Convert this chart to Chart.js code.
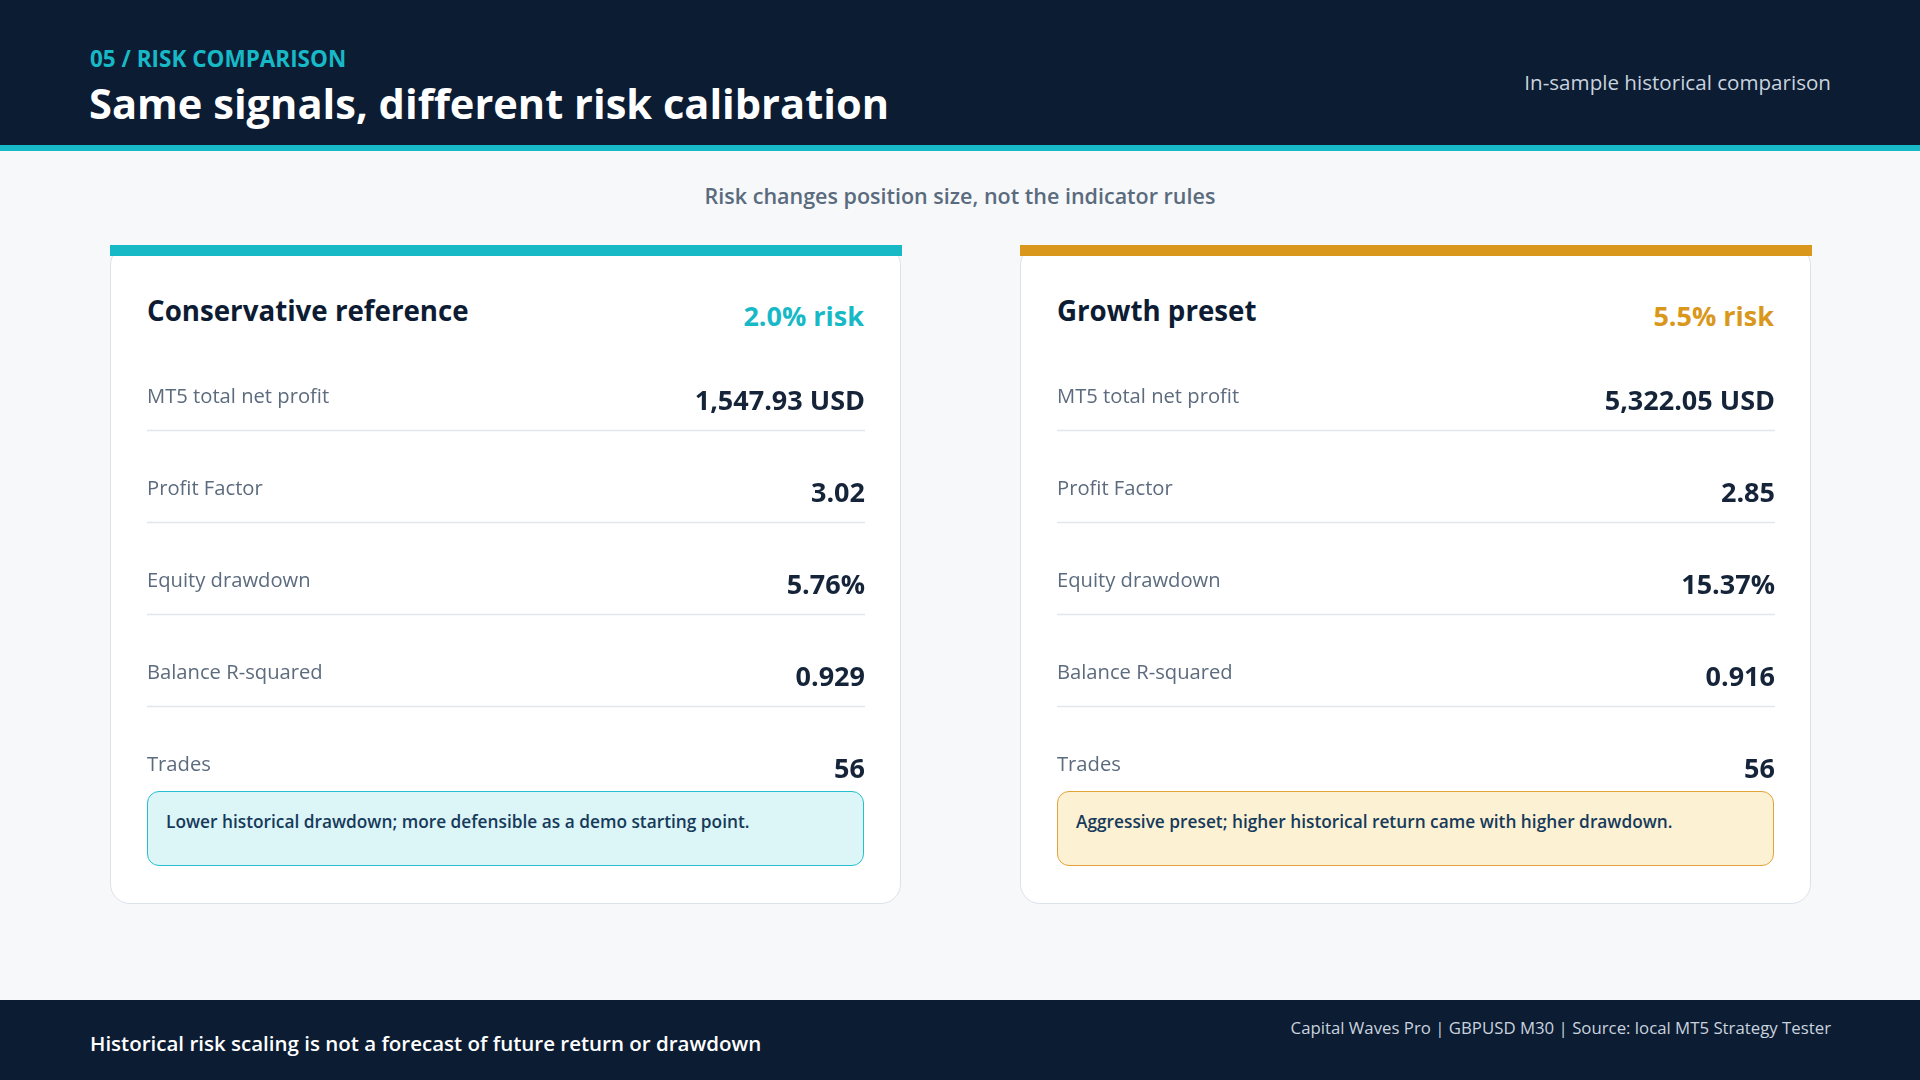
<!DOCTYPE html>
<html>
<head>
<meta charset="utf-8">
<script src="https://cdn.jsdelivr.net/npm/chart.js@4.4.1/dist/chart.umd.min.js"></script>
<style>
  html,body{margin:0;padding:0;}
  body{width:1920px;height:1080px;position:relative;overflow:hidden;background:#f6f8fa;font-family:"Open Sans",sans-serif;}
  .abs{position:absolute;white-space:nowrap;line-height:1;}
  #header{position:absolute;left:0;top:0;width:1920px;height:145px;background:#0b1c33;}
  #hline{position:absolute;left:0;top:145px;width:1920px;height:6px;background:#18b9c7;}
  #footer{position:absolute;left:0;top:1000px;width:1920px;height:80px;background:#0b1c33;}
  .card{position:absolute;top:245px;width:789px;height:657px;background:#fff;border:1.5px solid #dbe3ea;border-radius:20px;box-sizing:content-box;}
  .bar{position:absolute;left:-1.5px;top:-1.5px;width:792px;height:11px;}
  .ctitle{position:absolute;left:36px;top:50.6px;font-size:27.7px;font-weight:700;color:#0d1c33;line-height:1;white-space:nowrap;}
  .crisk{position:absolute;right:36px;top:55.5px;font-size:27px;font-weight:700;line-height:1;white-space:nowrap;}
  .chartbox{position:absolute;left:36px;top:92.6px;width:718px;height:484.2px;}
  .note{position:absolute;left:36px;top:545px;width:715px;height:73px;border-radius:12px;border:1.5px solid;box-sizing:content-box;}
  .note span{position:absolute;left:18px;top:20.6px;font-size:17.3px;font-weight:600;color:#163a5a;line-height:1;white-space:nowrap;}
</style>
</head>
<body>
<div id="header"></div>
<div id="hline"></div>
<div class="abs" id="eyebrow" style="left:90px;top:48px;font-size:22.5px;font-weight:700;color:#18b9c7;"></div>
<div class="abs" id="title" style="left:89px;top:83px;font-size:41.6px;font-weight:700;color:#ffffff;"></div>
<div class="abs" id="hright" style="right:89px;top:72.4px;font-size:20.6px;font-weight:400;color:#c9d3de;"></div>
<div class="abs" id="subtitle" style="left:0;width:1920px;text-align:center;top:185px;font-size:21.5px;font-weight:600;color:#5a6b7d;"></div>

<div id="cards"></div>

<div id="footer"></div>
<div class="abs" id="fleft" style="left:90px;top:1032.5px;font-size:20.5px;font-weight:600;color:#ffffff;"></div>
<div class="abs" id="fright" style="right:89px;top:1020px;font-size:16.8px;font-weight:400;color:#c9d3de;"></div>

<script>
// ---- Text content ----
const eyebrowText = '05 / RISK COMPARISON';
const titleText = 'Same signals, different risk calibration';
const headerRightText = 'In-sample historical comparison';
const subtitleText = 'Risk changes position size, not the indicator rules';
const footerLeftText = 'Historical risk scaling is not a forecast of future return or drawdown';
const footerRightText = 'Capital Waves Pro | GBPUSD M30 | Source: local MT5 Strategy Tester';

// ---- Data ----
const metricLabels = ['MT5 total net profit', 'Profit Factor', 'Equity drawdown', 'Balance R-squared', 'Trades'];
const valueDecimals = [2, 2, 2, 3, 0];
const valueSuffix = [' USD', '', '%', '', ''];

const presetNames = ['Conservative reference', 'Growth preset'];
const presetRisk = [2.0, 5.5];
const conservativeValues = [1547.93, 3.02, 5.76, 0.929, 56];
const growthValues = [5322.05, 2.85, 15.37, 0.916, 56];
const presetNotes = [
  'Lower historical drawdown; more defensible as a demo starting point.',
  'Aggressive preset; higher historical return came with higher drawdown.'
];

// ---- Styling (not data) ----
const presetColors = ['#18b9c7', '#d9981c'];
const noteFill = ['#dcf5f7', '#fdf1d4'];
const noteBorder = ['#25c0cf', '#e4a338'];
const cardLeft = [110, 1020];

document.getElementById('eyebrow').textContent = eyebrowText;
document.getElementById('title').textContent = titleText;
document.getElementById('hright').textContent = headerRightText;
document.getElementById('subtitle').textContent = subtitleText;
document.getElementById('fleft').textContent = footerLeftText;
document.getElementById('fright').textContent = footerRightText;

function fmt(v, i) {
  return v.toLocaleString('en-US', {minimumFractionDigits: valueDecimals[i], maximumFractionDigits: valueDecimals[i]}) + valueSuffix[i];
}

const rowPlugin = {
  id: 'rowPlugin',
  afterDraw(chart) {
    const ctx = chart.ctx;
    const y = chart.scales.y;
    const vals = chart.data.datasets[0].data;
    ctx.save();
    // separators
    ctx.strokeStyle = '#dfe6ec';
    ctx.lineWidth = 1.5;
    for (let i = 0; i < vals.length - 1; i++) {
      const yy = y.getPixelForValue(i) + 33.5;
      ctx.beginPath();
      ctx.moveTo(0, yy);
      ctx.lineTo(chart.width, yy);
      ctx.stroke();
    }
    // values
    ctx.fillStyle = '#16243a';
    ctx.font = '700 27px "Open Sans"';
    ctx.textAlign = 'right';
    ctx.textBaseline = 'alphabetic';
    for (let i = 0; i < vals.length; i++) {
      ctx.fillText(fmt(vals[i], i), chart.width, y.getPixelForValue(i) + 12.8);
    }
    ctx.restore();
  }
};

const allValues = [conservativeValues, growthValues];
const cardsEl = document.getElementById('cards');
presetNames.forEach((name, k) => {
  const card = document.createElement('div');
  card.className = 'card';
  card.style.left = cardLeft[k] + 'px';
  card.innerHTML =
    '<div class="bar" style="background:' + presetColors[k] + '"></div>' +
    '<div class="ctitle"></div>' +
    '<div class="crisk" style="color:' + presetColors[k] + '"></div>' +
    '<div class="chartbox"><canvas></canvas></div>' +
    '<div class="note" style="background:' + noteFill[k] + ';border-color:' + noteBorder[k] + '"><span></span></div>';
  card.querySelector('.ctitle').textContent = name;
  card.querySelector('.crisk').textContent = presetRisk[k].toFixed(1) + '% risk';
  card.querySelector('.note span').textContent = presetNotes[k];
  cardsEl.appendChild(card);

  new Chart(card.querySelector('canvas'), {
    type: 'bar',
    data: {
      labels: metricLabels,
      datasets: [{
        label: name,
        data: allValues[k],
        backgroundColor: 'rgba(0,0,0,0)',
        borderWidth: 0
      }]
    },
    options: {
      indexAxis: 'y',
      responsive: true,
      maintainAspectRatio: false,
      animation: false,
      events: [],
      layout: {padding: 0},
      plugins: {legend: {display: false}, tooltip: {enabled: false}, title: {display: false}},
      scales: {
        x: {display: false, min: 0},
        y: {
          type: 'category',
          offset: true,
          grid: {display: false, drawTicks: false},
          border: {display: false},
          ticks: {
            autoSkip: false,
            crossAlign: 'far',
            padding: 0,
            color: '#5c6b7d',
            font: {family: 'Open Sans', size: 20.2, weight: 400}
          }
        }
      }
    },
    plugins: [rowPlugin]
  });
});
</script>
</body>
</html>
